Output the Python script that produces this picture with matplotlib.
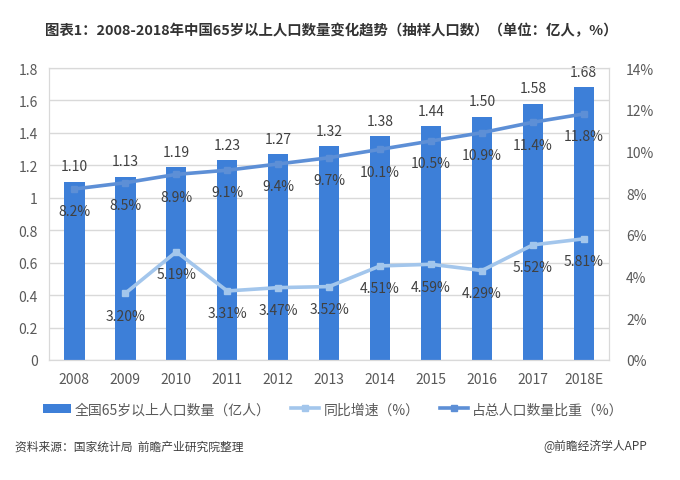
import matplotlib
matplotlib.use("Agg")
import matplotlib.pyplot as plt
from matplotlib.ticker import FuncFormatter

plt.rcParams['font.family'] = ['Noto Sans CJK SC', 'DejaVu Sans']

years = ['2008', '2009', '2010', '2011', '2012', '2013', '2014', '2015', '2016', '2017', '2018E']
population = [1.10, 1.13, 1.19, 1.23, 1.27, 1.32, 1.38, 1.44, 1.50, 1.58, 1.68]
growth_years = years[1:]
growth = [3.20, 5.19, 3.31, 3.47, 3.52, 4.51, 4.59, 4.29, 5.52, 5.81]
ratio = [8.2, 8.5, 8.9, 9.1, 9.4, 9.7, 10.1, 10.5, 10.9, 11.4, 11.8]

bar_c = '#3d7fd8'
growth_c = '#a3c6ec'
ratio_c = '#5d8fd6'
txt_c = '#404040'
tick_c = '#595959'

fig = plt.figure(figsize=(6.8, 4.81), dpi=100)
ax = fig.add_axes([0.072, 0.2495, 0.824, 0.607])
ax2 = ax.twinx()

x = list(range(len(years)))
gx = x[1:]

bars = ax.bar(x, population, width=0.4, color=bar_c, zorder=2, label='全国65岁以上人口数量（亿人）')
ax.set_ylim(0, 1.8)
ax.set_yticks([0, 0.2, 0.4, 0.6, 0.8, 1.0, 1.2, 1.4, 1.6, 1.8])
ax.yaxis.set_major_formatter(FuncFormatter(lambda v, p: '0' if v == 0 else ('1' if abs(v-1) < 1e-9 else f'{v:.1f}')))
ax.set_xlim(-0.5, len(years) - 0.5)
ax.set_xticks(x)
ax.set_xticklabels(years)
ax.grid(axis='y', color='#d9d9d9', linewidth=1, zorder=0)
ax.set_axisbelow(True)
for s in ['top', 'bottom', 'left', 'right']:
    ax.spines[s].set_color('#d9d9d9')
    ax2.spines[s].set_color('#d9d9d9')
ax.tick_params(axis='both', length=0, labelsize=10, colors=tick_c, pad=8)
ax.tick_params(axis='x', pad=9)

for xi, v in zip(x, population):
    ax.annotate(f'{v:.2f}', (xi, v), xytext=(0, 6), textcoords='offset points',
                ha='center', va='bottom', fontsize=10, color=txt_c)

l1, = ax2.plot(gx, growth, color=growth_c, linewidth=2.6, marker='s', markersize=5,
               zorder=3, label='同比增速（%）')
l2, = ax2.plot(x, ratio, color=ratio_c, linewidth=2.6, marker='s', markersize=5,
               zorder=3, label='占总人口数量比重（%）')
ax2.set_ylim(0, 14)
ax2.set_yticks(range(0, 15, 2))
ax2.yaxis.set_major_formatter(FuncFormatter(lambda v, p: f'{int(v)}%'))
ax2.tick_params(axis='y', length=0, labelsize=10, colors=tick_c, pad=12)

for xi, v in zip(gx, growth):
    ax2.annotate(f'{v:.2f}%', (xi, v), xytext=(0, -11), textcoords='offset points',
                 ha='center', va='top', fontsize=10, color=txt_c, zorder=5)
for xi, v in zip(x, ratio):
    ax2.annotate(f'{v:.1f}%', (xi, v), xytext=(0, -11), textcoords='offset points',
                 ha='center', va='top', fontsize=10, color=txt_c, zorder=5)

fig.text(0.066, 0.935, '图表1：2008-2018年中国65岁以上人口数量变化趋势（抽样人口数）（单位：亿人，%）',
         fontsize=10.4, fontweight='bold', color='#333333', ha='left', va='center')

fig.legend(handles=[bars, l1, l2], loc='center', bbox_to_anchor=(0.49, 0.147), ncol=3,
           frameon=False, fontsize=10, labelcolor=tick_c, handlelength=2.0,
           handletextpad=0.3, columnspacing=1.5, borderpad=0.2)

fig.text(0.022, 0.071, '资料来源：国家统计局  前瞻产业研究院整理', fontsize=8.5, style='italic',
         color='#404040', ha='left', va='center')
fig.text(0.951, 0.071, '@前瞻经济学人APP', fontsize=8.5, color='#404040', ha='right', va='center')

fig.savefig('out.png', dpi=100, facecolor='white')
